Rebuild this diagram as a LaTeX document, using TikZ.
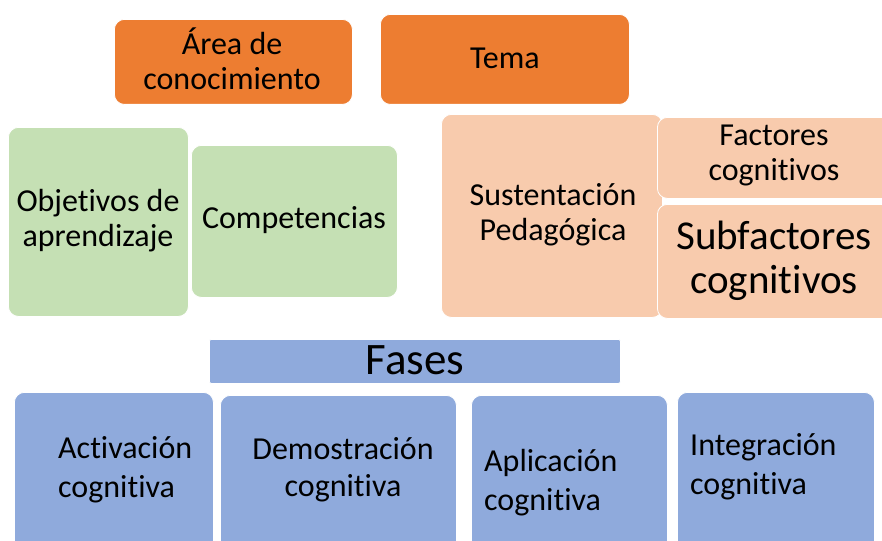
\documentclass[tikz,border=0pt]{standalone}
\usepackage{fontspec}
\setmainfont[RawFeature={-liga;-clig;-dlig}]{Carlito}
\definecolor{orangeC}{RGB}{237,125,49}
\definecolor{greenC}{RGB}{197,224,180}
\definecolor{peachC}{RGB}{248,203,173}
\definecolor{blueC}{RGB}{143,170,220}
\begin{document}
\begin{tikzpicture}[x=1pt,y=-1pt,
  box/.style={rounded corners=10pt, draw=white, line width=0.8pt, inner sep=0pt, anchor=north west},
  org/.style={box, fill=orangeC},
  grn/.style={box, fill=greenC},
  pch/.style={box, fill=peachC},
  blu/.style={box, fill=blueC},
  lbl/.style={font=\fontsize{32}{35}\selectfont, align=center, inner sep=0pt, text=black},
  lblb/.style={font=\fontsize{32}{39}\selectfont, align=left, inner sep=0pt, anchor=west, text=black},
  lblc/.style={font=\fontsize{32}{37}\selectfont, align=center, inner sep=0pt, text=black}
]
\clip (0,0) rectangle (882,540);
\fill[white] (0,0) rectangle (882,540);
% top row
\node[org, minimum width=238pt, minimum height=85pt] (area) at (114,19) {};
\node[org, minimum width=249pt, minimum height=90pt] (tema) at (380,14) {};
\node[lbl] (areaT) at (232,59) {Área de\\conocimiento};
\node[lbl] (temaT) at (505,58) {Tema};
% green
\node[grn, minimum width=180pt, minimum height=189pt] (obj) at (8,127) {};
\node[grn, minimum width=206pt, minimum height=152pt] (comp) at (191,145) {};
\node[lbl] (objT) at (98,221) {Objetivos de\\aprendizaje};
\node[lbl] (compT) at (294,220) {Competencias};
% peach
\node[pch, minimum width=221pt, minimum height=203pt] (sust) at (441,114) {};
\node[pch, minimum width=240pt, minimum height=81pt] (fact) at (657,117) {};
\node[pch, minimum width=240pt, minimum height=114pt] (subf) at (657,204) {};
\node[lbl] (sustT) at (553,215) {Sustentación\\Pedagógica};
\node[lbl] (factT) at (774,155) {Factores\\cognitivos};
\node[lbl, font=\fontsize{41}{44}\selectfont] (subfT) at (774,261) {Subfactores\\cognitivos};
% fases
\node[blu, rounded corners=2pt, minimum width=411pt, minimum height=44pt] (fases) at (209,339) {};
\node[lbl, font=\fontsize{45}{48}\selectfont] (fasesT) at (415,360) {Fases};
\node[blu, minimum width=199pt, minimum height=160pt] (act) at (14,392) {};
\node[blu, minimum width=236pt, minimum height=160pt] (dem) at (220,395) {};
\node[blu, minimum width=196pt, minimum height=160pt] (apl) at (471,395) {};
\node[blu, minimum width=197pt, minimum height=160pt] (int) at (677,392) {};
\node[lblb] (actT) at (58,470) {Activación\\cognitiva};
\node[lblc] (demT) at (343,470) {Demostración\\cognitiva};
\node[lblb] (aplT) at (484,483) {Aplicación\\cognitiva};
\node[lblb] (intT) at (690,467) {Integración\\cognitiva};
\end{tikzpicture}
\end{document}
